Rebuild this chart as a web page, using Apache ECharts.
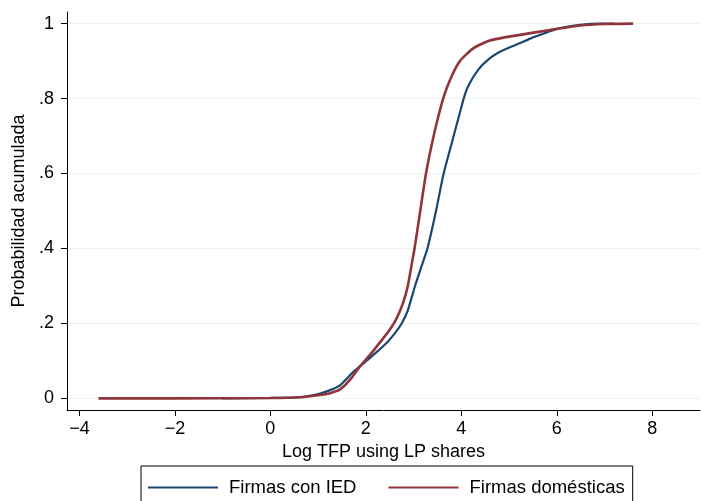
<!DOCTYPE html>
<html>
<head>
<meta charset="utf-8">
<title>CDF TFP</title>
<script src="https://cdn.jsdelivr.net/npm/echarts@6/dist/echarts.min.js"></script>
<style>
  html, body { margin: 0; padding: 0; background: #fff; }
  #chart { width: 701px; height: 501px; }
</style>
</head>
<body>
<div id="chart"></div>
<script>
// valores
var xTicks = [-4, -2, 0, 2, 4, 6, 8];
var yTicks = [0, 0.2, 0.4, 0.6, 0.8, 1];
var yTickLabels = ['0', '.2', '.4', '.6', '.8', '1'];

var iedX = [-1.0, 0.0, 0.62, 1.04, 1.25, 1.46, 1.74, 1.95, 2.23, 2.45, 2.61, 2.75, 2.88, 3.03, 3.16, 3.29, 3.47, 3.63, 3.84, 4.05, 4.15, 4.36, 4.60, 4.81, 5.02, 5.23, 5.44, 5.65, 5.86, 6.07, 6.49, 6.90, 7.20];
var iedY = [0, 0.001, 0.003, 0.013, 0.022, 0.035, 0.071, 0.093, 0.124, 0.15, 0.174, 0.2, 0.235, 0.3, 0.35, 0.4, 0.5, 0.6, 0.7, 0.8, 0.835, 0.878, 0.908, 0.925, 0.937, 0.948, 0.96, 0.970, 0.980, 0.988, 0.997, 1.0, 1.0];

var domX = [-3.6, -2.0, 0.0, 0.62, 1.04, 1.25, 1.46, 1.67, 1.88, 2.10, 2.30, 2.50, 2.65, 2.78, 2.88, 2.95, 3.02, 3.14, 3.26, 3.42, 3.62, 3.80, 3.97, 4.25, 4.60, 5.23, 5.86, 6.49, 7.00, 7.60];
var domY = [0, 0, 0.001, 0.003, 0.009, 0.014, 0.024, 0.05, 0.086, 0.118, 0.15, 0.183, 0.215, 0.255, 0.3, 0.35, 0.4, 0.5, 0.6, 0.7, 0.8, 0.86, 0.9, 0.934, 0.955, 0.970, 0.983, 0.995, 0.999, 1.0];

function pairs(xs, ys) {
  var out = [];
  for (var i = 0; i < xs.length; i++) out.push([xs[i], ys[i]]);
  return out;
}

var font = 'Liberation Sans, Arial, sans-serif';
var chart = echarts.init(document.getElementById('chart'), null, { renderer: 'canvas' });

chart.setOption({
  animation: false,
  backgroundColor: '#ffffff',
  grid: { left: 67, right: 1, top: 12, bottom: 91, containLabel: false },
  xAxis: {
    type: 'value',
    min: -4.26,
    max: 9.0,
    name: 'Log TFP using LP shares',
    nameLocation: 'middle',
    nameGap: 33,
    nameTextStyle: { fontFamily: font, fontSize: 18, color: '#000' },
    axisLine: { show: true, onZero: false, lineStyle: { color: '#000', width: 1 } },
    axisTick: { show: true, length: 6, customValues: xTicks, lineStyle: { color: '#000' } },
    axisLabel: {
      customValues: xTicks,
      margin: 10,
      fontFamily: font, fontSize: 18, color: '#000',
      formatter: function (v) { return v < 0 ? '\u2212' + Math.abs(v) : String(v); }
    },
    splitLine: { show: false }
  },
  yAxis: {
    type: 'value',
    min: -0.031,
    max: 1.031,
    name: 'Probabilidad acumulada',
    nameLocation: 'middle',
    nameGap: 38,
    nameTextStyle: { fontFamily: font, fontSize: 18, color: '#000' },
    axisLine: { show: true, onZero: false, lineStyle: { color: '#000', width: 1 } },
    axisTick: { show: true, length: 6, customValues: yTicks, lineStyle: { color: '#000' } },
    axisLabel: {
      customValues: yTicks,
      margin: 13,
      fontFamily: font, fontSize: 18, color: '#000',
      formatter: function (v) {
        for (var i = 0; i < yTicks.length; i++) {
          if (Math.abs(yTicks[i] - v) < 1e-6) return yTickLabels[i];
        }
        return '';
      }
    },
    splitLine: { show: true, lineStyle: { color: '#eaf2f3', width: 1.2 } }
  },
  legend: {
    left: 141,
    top: 466,
    padding: [12, 8, 14, 7],
    borderColor: '#000',
    borderWidth: 1,
    itemWidth: 70,
    itemHeight: 2,
    itemGap: 32,
    icon: 'rect',
    textStyle: { fontFamily: font, fontSize: 18.5, color: '#000', padding: [0, 0, 0, 6] },
    data: ['Firmas con IED', 'Firmas domésticas']
  },
  series: [
    {
      name: 'Firmas con IED',
      type: 'line',
      data: pairs(iedX, iedY),
      smooth: 0.2,
      showSymbol: false,
      symbol: 'none',
      color: '#1a476f',
      lineStyle: { color: '#1a476f', width: 2.2 },
      z: 3
    },
    {
      name: 'Firmas domésticas',
      type: 'line',
      data: pairs(domX, domY),
      smooth: 0.2,
      showSymbol: false,
      symbol: 'none',
      color: '#90353b',
      lineStyle: { color: '#90353b', width: 2.6 },
      z: 4
    }
  ]
});
</script>
</body>
</html>
